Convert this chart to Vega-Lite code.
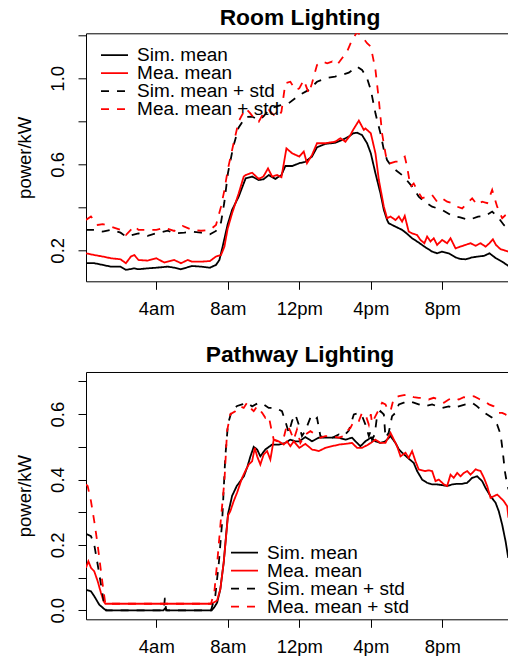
{
"$schema": "https://vega.github.io/schema/vega-lite/v6.json",
"background": "white",
"autosize": {"type": "pad"},
"padding": {"left": 15, "top": 6.3, "right": 0, "bottom": 0},
"spacing": 90.7,
"bounds": "flush",
"config": {
  "font": "Liberation Sans",
  "view": {"stroke": null},
  "axis": {"grid": false, "domainColor": "black", "tickColor": "black", "labelColor": "black", "titleColor": "black", "labelFont": "Liberation Sans", "titleFont": "Liberation Sans", "labelFontSize": 18.5, "titleFontSize": 18.5, "titleFontWeight": "normal", "tickSize": 8, "domainWidth": 1, "tickWidth": 1},
  "legend": {"orient": "none", "title": null, "symbolType": "M-4,0H4", "symbolSize": 45.6, "symbolStrokeWidth": 1.8, "symbolOffset": 10.1, "labelFontSize": 19, "labelFont": "Liberation Sans", "labelColor": "black", "labelOffset": 13.1, "rowPadding": 0, "clipHeight": 17.4, "padding": 0, "labelBaseline": "middle", "labelLimit": 0},
  "title": {"font": "Liberation Sans", "fontSize": 22.8, "fontWeight": "bold", "color": "black", "anchor": "middle", "frame": "group", "baseline": "alphabetic", "dx": 3}
},
"resolve": {"scale": {"x": "independent", "y": "independent", "color": "independent", "strokeDash": "independent"}, "legend": {"color": "independent", "strokeDash": "independent"}},
"vconcat": [
{
  "title": {"text": "Room Lighting", "offset": 3.3},
  "width": 422, "height": 248,
  "data": {"name": "room"},
  "resolve": {"axis": {"x": "independent"}},
  "layer": [
    {
      "mark": {"type": "line", "strokeWidth": 1.8, "clip": true},
      "encoding": {
        "x": {"field": "h", "type": "quantitative", "scale": {"domain": [0.067, 23.675], "nice": false, "zero": false},
              "axis": {"orient": "bottom", "values": [4, 8, 12, 16, 20], "labelExpr": "datum.value == 4 ? '4am' : datum.value == 8 ? '8am' : datum.value == 12 ? '12pm' : datum.value == 16 ? '4pm' : '8pm'", "title": null, "labelPadding": 25, "labelBaseline": "alphabetic", "labelFlush": false, "labelOverlap": false}},
        "y": {"field": "v", "type": "quantitative", "scale": {"domain": [0.0558, 1.2093], "nice": false, "zero": false},
              "axis": {"values": [0.2, 0.4, 0.6, 0.8, 1.0, 1.2], "labelExpr": "round(datum.value*10) % 4 == 2 ? format(datum.value, '.1f') : ''", "title": "power/kW", "labelAngle": 270, "labelAlign": "center", "labelBaseline": "alphabetic", "labelPadding": 14.7, "titleX": -56, "titleY": 124, "titleAngle": 270, "titleBaseline": "alphabetic", "titleAlign": "center", "labelOverlap": false, "labelFlush": false}},
        "color": {"field": "s", "type": "nominal", "scale": {"domain": ["Sim. mean", "Mea. mean", "Sim. mean + std", "Mea. mean + std"], "range": ["black", "#ff0000", "black", "#ff0000"]}, "legend": {"legendX": 8.9, "legendY": 13.1, "encode": {"entries": {"update": {"clip": {"value": true}, "width": {"value": 200}}}}}},
        "strokeDash": {"field": "s", "type": "nominal", "scale": {"domain": ["Sim. mean", "Mea. mean", "Sim. mean + std", "Mea. mean + std"], "range": [[1, 0], [1, 0], [8, 8], [8, 8]]}, "legend": {"legendX": 8.9, "legendY": 13.1, "encode": {"entries": {"update": {"clip": {"value": true}, "width": {"value": 200}}}}}}
      }
    },
    {
      "mark": {"type": "line", "opacity": 0, "clip": true},
      "encoding": {
        "x": {"field": "h", "type": "quantitative", "scale": {"domain": [0.067, 23.675], "nice": false, "zero": false},
              "axis": {"orient": "top", "labels": false, "ticks": false, "title": null, "domain": true}}
      }
    }
  ]
},
{
  "title": {"text": "Pathway Lighting", "offset": 4.7},
  "width": 422, "height": 247.3,
  "data": {"name": "path"},
  "resolve": {"axis": {"x": "independent"}},
  "layer": [
    {
      "mark": {"type": "line", "strokeWidth": 1.8, "clip": true},
      "encoding": {
        "x": {"field": "h", "type": "quantitative", "scale": {"domain": [0.067, 23.675], "nice": false, "zero": false},
              "axis": {"orient": "bottom", "values": [4, 8, 12, 16, 20], "labelExpr": "datum.value == 4 ? '4am' : datum.value == 8 ? '8am' : datum.value == 12 ? '12pm' : datum.value == 16 ? '4pm' : '8pm'", "title": null, "labelPadding": 25, "labelBaseline": "alphabetic", "labelFlush": false, "labelOverlap": false}},
        "y": {"field": "v", "type": "quantitative", "scale": {"domain": [-0.0276, 0.729], "nice": false, "zero": false},
              "axis": {"values": [0, 0.1, 0.2, 0.3, 0.4, 0.5, 0.6, 0.7], "labelExpr": "round(datum.value*10) % 2 == 0 ? format(datum.value, '.1f') : ''", "title": "power/kW", "labelAngle": 270, "labelAlign": "center", "labelBaseline": "alphabetic", "labelPadding": 14.7, "titleX": -56, "titleY": 123.65, "titleAngle": 270, "titleBaseline": "alphabetic", "titleAlign": "center", "labelOverlap": false, "labelFlush": false}},
        "color": {"field": "s", "type": "nominal", "scale": {"domain": ["Sim. mean", "Mea. mean", "Sim. mean + std", "Mea. mean + std"], "range": ["black", "#ff0000", "black", "#ff0000"]}, "legend": {"legendX": 138.9, "legendY": 171.9, "encode": {"entries": {"update": {"clip": {"value": true}, "width": {"value": 200}}}}}},
        "strokeDash": {"field": "s", "type": "nominal", "scale": {"domain": ["Sim. mean", "Mea. mean", "Sim. mean + std", "Mea. mean + std"], "range": [[1, 0], [1, 0], [8, 8], [8, 8]]}, "legend": {"legendX": 138.9, "legendY": 171.9, "encode": {"entries": {"update": {"clip": {"value": true}, "width": {"value": 200}}}}}}
      }
    },
    {
      "mark": {"type": "line", "opacity": 0, "clip": true},
      "encoding": {
        "x": {"field": "h", "type": "quantitative", "scale": {"domain": [0.067, 23.675], "nice": false, "zero": false},
              "axis": {"orient": "top", "labels": false, "ticks": false, "title": null, "domain": true}}
      }
    }
  ]
}
],
"datasets": {
"room": [
{"s":"Sim. mean","h":0.065,"v":0.14},{"s":"Sim. mean","h":0.53,"v":0.14},{"s":"Sim. mean","h":1.0,"v":0.132},{"s":"Sim. mean","h":1.46,"v":0.124},{"s":"Sim. mean","h":2.0,"v":0.124},{"s":"Sim. mean","h":2.3,"v":0.109},{"s":"Sim. mean","h":2.77,"v":0.116},{"s":"Sim. mean","h":3.0,"v":0.112},{"s":"Sim. mean","h":3.52,"v":0.116},{"s":"Sim. mean","h":4.0,"v":0.119},{"s":"Sim. mean","h":4.64,"v":0.124},{"s":"Sim. mean","h":5.0,"v":0.119},{"s":"Sim. mean","h":5.38,"v":0.112},{"s":"Sim. mean","h":6.0,"v":0.127},{"s":"Sim. mean","h":6.5,"v":0.124},{"s":"Sim. mean","h":7.0,"v":0.119},{"s":"Sim. mean","h":7.34,"v":0.132},{"s":"Sim. mean","h":7.53,"v":0.155},{"s":"Sim. mean","h":7.71,"v":0.217},{"s":"Sim. mean","h":7.99,"v":0.32},{"s":"Sim. mean","h":8.24,"v":0.388},{"s":"Sim. mean","h":8.61,"v":0.45},{"s":"Sim. mean","h":9.0,"v":0.535},{"s":"Sim. mean","h":9.36,"v":0.543},{"s":"Sim. mean","h":9.73,"v":0.527},{"s":"Sim. mean","h":9.99,"v":0.53},{"s":"Sim. mean","h":10.29,"v":0.55},{"s":"Sim. mean","h":10.66,"v":0.532},{"s":"Sim. mean","h":11.0,"v":0.55},{"s":"Sim. mean","h":11.22,"v":0.592},{"s":"Sim. mean","h":11.6,"v":0.592},{"s":"Sim. mean","h":12.0,"v":0.605},{"s":"Sim. mean","h":12.34,"v":0.612},{"s":"Sim. mean","h":12.71,"v":0.636},{"s":"Sim. mean","h":12.99,"v":0.679},{"s":"Sim. mean","h":13.46,"v":0.695},{"s":"Sim. mean","h":14.0,"v":0.7},{"s":"Sim. mean","h":14.39,"v":0.713},{"s":"Sim. mean","h":14.77,"v":0.729},{"s":"Sim. mean","h":15.01,"v":0.744},{"s":"Sim. mean","h":15.23,"v":0.747},{"s":"Sim. mean","h":15.51,"v":0.736},{"s":"Sim. mean","h":15.79,"v":0.698},{"s":"Sim. mean","h":16.0,"v":0.651},{"s":"Sim. mean","h":16.26,"v":0.558},{"s":"Sim. mean","h":16.54,"v":0.465},{"s":"Sim. mean","h":16.73,"v":0.388},{"s":"Sim. mean","h":16.91,"v":0.341},{"s":"Sim. mean","h":17.0,"v":0.326},{"s":"Sim. mean","h":17.38,"v":0.31},{"s":"Sim. mean","h":17.75,"v":0.295},{"s":"Sim. mean","h":18.0,"v":0.279},{"s":"Sim. mean","h":18.31,"v":0.256},{"s":"Sim. mean","h":18.68,"v":0.236},{"s":"Sim. mean","h":19.0,"v":0.217},{"s":"Sim. mean","h":19.43,"v":0.194},{"s":"Sim. mean","h":19.71,"v":0.186},{"s":"Sim. mean","h":19.99,"v":0.194},{"s":"Sim. mean","h":20.36,"v":0.186},{"s":"Sim. mean","h":20.74,"v":0.167},{"s":"Sim. mean","h":21.0,"v":0.16},{"s":"Sim. mean","h":21.3,"v":0.158},{"s":"Sim. mean","h":21.67,"v":0.167},{"s":"Sim. mean","h":22.0,"v":0.171},{"s":"Sim. mean","h":22.33,"v":0.174},{"s":"Sim. mean","h":22.64,"v":0.186},{"s":"Sim. mean","h":23.0,"v":0.163},{"s":"Sim. mean","h":23.35,"v":0.147},{"s":"Sim. mean","h":23.7,"v":0.127},
{"s":"Mea. mean","h":0.065,"v":0.186},{"s":"Mea. mean","h":0.53,"v":0.178},{"s":"Mea. mean","h":1.0,"v":0.171},{"s":"Mea. mean","h":1.46,"v":0.163},{"s":"Mea. mean","h":2.0,"v":0.158},{"s":"Mea. mean","h":2.3,"v":0.14},{"s":"Mea. mean","h":2.58,"v":0.171},{"s":"Mea. mean","h":2.77,"v":0.178},{"s":"Mea. mean","h":3.0,"v":0.155},{"s":"Mea. mean","h":3.52,"v":0.152},{"s":"Mea. mean","h":4.0,"v":0.163},{"s":"Mea. mean","h":4.45,"v":0.143},{"s":"Mea. mean","h":5.0,"v":0.155},{"s":"Mea. mean","h":5.38,"v":0.14},{"s":"Mea. mean","h":5.76,"v":0.155},{"s":"Mea. mean","h":6.0,"v":0.147},{"s":"Mea. mean","h":6.5,"v":0.147},{"s":"Mea. mean","h":7.0,"v":0.15},{"s":"Mea. mean","h":7.34,"v":0.171},{"s":"Mea. mean","h":7.62,"v":0.178},{"s":"Mea. mean","h":7.81,"v":0.217},{"s":"Mea. mean","h":7.99,"v":0.3},{"s":"Mea. mean","h":8.24,"v":0.372},{"s":"Mea. mean","h":8.61,"v":0.465},{"s":"Mea. mean","h":8.89,"v":0.543},{"s":"Mea. mean","h":9.0,"v":0.55},{"s":"Mea. mean","h":9.36,"v":0.561},{"s":"Mea. mean","h":9.73,"v":0.532},{"s":"Mea. mean","h":9.99,"v":0.543},{"s":"Mea. mean","h":10.25,"v":0.581},{"s":"Mea. mean","h":10.48,"v":0.543},{"s":"Mea. mean","h":10.76,"v":0.55},{"s":"Mea. mean","h":11.0,"v":0.54},{"s":"Mea. mean","h":11.28,"v":0.674},{"s":"Mea. mean","h":11.6,"v":0.651},{"s":"Mea. mean","h":12.0,"v":0.636},{"s":"Mea. mean","h":12.25,"v":0.659},{"s":"Mea. mean","h":12.43,"v":0.605},{"s":"Mea. mean","h":12.71,"v":0.643},{"s":"Mea. mean","h":12.99,"v":0.698},{"s":"Mea. mean","h":13.46,"v":0.698},{"s":"Mea. mean","h":14.0,"v":0.705},{"s":"Mea. mean","h":14.3,"v":0.721},{"s":"Mea. mean","h":14.58,"v":0.705},{"s":"Mea. mean","h":14.86,"v":0.736},{"s":"Mea. mean","h":15.01,"v":0.76},{"s":"Mea. mean","h":15.33,"v":0.803},{"s":"Mea. mean","h":15.61,"v":0.76},{"s":"Mea. mean","h":15.7,"v":0.767},{"s":"Mea. mean","h":16.0,"v":0.744},{"s":"Mea. mean","h":16.26,"v":0.651},{"s":"Mea. mean","h":16.45,"v":0.527},{"s":"Mea. mean","h":16.73,"v":0.403},{"s":"Mea. mean","h":16.91,"v":0.349},{"s":"Mea. mean","h":17.1,"v":0.357},{"s":"Mea. mean","h":17.38,"v":0.341},{"s":"Mea. mean","h":17.57,"v":0.357},{"s":"Mea. mean","h":17.75,"v":0.333},{"s":"Mea. mean","h":17.9,"v":0.36},{"s":"Mea. mean","h":18.12,"v":0.287},{"s":"Mea. mean","h":18.31,"v":0.279},{"s":"Mea. mean","h":18.59,"v":0.271},{"s":"Mea. mean","h":18.78,"v":0.248},{"s":"Mea. mean","h":19.0,"v":0.233},{"s":"Mea. mean","h":19.15,"v":0.264},{"s":"Mea. mean","h":19.34,"v":0.241},{"s":"Mea. mean","h":19.52,"v":0.256},{"s":"Mea. mean","h":19.71,"v":0.225},{"s":"Mea. mean","h":19.99,"v":0.248},{"s":"Mea. mean","h":20.27,"v":0.233},{"s":"Mea. mean","h":20.46,"v":0.256},{"s":"Mea. mean","h":20.74,"v":0.209},{"s":"Mea. mean","h":21.0,"v":0.217},{"s":"Mea. mean","h":21.3,"v":0.225},{"s":"Mea. mean","h":21.58,"v":0.233},{"s":"Mea. mean","h":21.86,"v":0.221},{"s":"Mea. mean","h":22.14,"v":0.233},{"s":"Mea. mean","h":22.42,"v":0.217},{"s":"Mea. mean","h":22.64,"v":0.233},{"s":"Mea. mean","h":22.83,"v":0.251},{"s":"Mea. mean","h":23.0,"v":0.225},{"s":"Mea. mean","h":23.26,"v":0.205},{"s":"Mea. mean","h":23.54,"v":0.198},{"s":"Mea. mean","h":23.7,"v":0.194},
{"s":"Sim. mean + std","h":0.065,"v":0.295},{"s":"Sim. mean + std","h":0.53,"v":0.295},{"s":"Sim. mean + std","h":1.0,"v":0.287},{"s":"Sim. mean + std","h":1.46,"v":0.295},{"s":"Sim. mean + std","h":2.0,"v":0.282},{"s":"Sim. mean + std","h":2.3,"v":0.264},{"s":"Sim. mean + std","h":3.0,"v":0.279},{"s":"Sim. mean + std","h":3.52,"v":0.267},{"s":"Sim. mean + std","h":4.0,"v":0.279},{"s":"Sim. mean + std","h":4.64,"v":0.291},{"s":"Sim. mean + std","h":5.0,"v":0.279},{"s":"Sim. mean + std","h":5.57,"v":0.282},{"s":"Sim. mean + std","h":6.0,"v":0.287},{"s":"Sim. mean + std","h":6.5,"v":0.282},{"s":"Sim. mean + std","h":7.0,"v":0.274},{"s":"Sim. mean + std","h":7.34,"v":0.29},{"s":"Sim. mean + std","h":7.62,"v":0.33},{"s":"Sim. mean + std","h":7.8,"v":0.42},{"s":"Sim. mean + std","h":8.01,"v":0.56},{"s":"Sim. mean + std","h":8.3,"v":0.68},{"s":"Sim. mean + std","h":8.6,"v":0.77},{"s":"Sim. mean + std","h":9.0,"v":0.82},{"s":"Sim. mean + std","h":9.36,"v":0.822},{"s":"Sim. mean + std","h":9.73,"v":0.806},{"s":"Sim. mean + std","h":9.99,"v":0.822},{"s":"Sim. mean + std","h":10.29,"v":0.853},{"s":"Sim. mean + std","h":10.66,"v":0.868},{"s":"Sim. mean + std","h":11.0,"v":0.876},{"s":"Sim. mean + std","h":11.41,"v":0.884},{"s":"Sim. mean + std","h":12.0,"v":0.922},{"s":"Sim. mean + std","h":12.53,"v":0.946},{"s":"Sim. mean + std","h":12.99,"v":0.984},{"s":"Sim. mean + std","h":13.46,"v":1.0},{"s":"Sim. mean + std","h":14.0,"v":1.008},{"s":"Sim. mean + std","h":14.39,"v":1.016},{"s":"Sim. mean + std","h":14.77,"v":1.026},{"s":"Sim. mean + std","h":15.23,"v":1.054},{"s":"Sim. mean + std","h":15.51,"v":1.039},{"s":"Sim. mean + std","h":15.79,"v":1.0},{"s":"Sim. mean + std","h":16.0,"v":0.946},{"s":"Sim. mean + std","h":16.26,"v":0.837},{"s":"Sim. mean + std","h":16.54,"v":0.744},{"s":"Sim. mean + std","h":16.73,"v":0.667},{"s":"Sim. mean + std","h":16.91,"v":0.62},{"s":"Sim. mean + std","h":17.1,"v":0.597},{"s":"Sim. mean + std","h":17.38,"v":0.574},{"s":"Sim. mean + std","h":17.75,"v":0.55},{"s":"Sim. mean + std","h":18.0,"v":0.527},{"s":"Sim. mean + std","h":18.31,"v":0.496},{"s":"Sim. mean + std","h":18.68,"v":0.45},{"s":"Sim. mean + std","h":19.0,"v":0.426},{"s":"Sim. mean + std","h":19.43,"v":0.403},{"s":"Sim. mean + std","h":19.99,"v":0.388},{"s":"Sim. mean + std","h":20.55,"v":0.36},{"s":"Sim. mean + std","h":21.0,"v":0.353},{"s":"Sim. mean + std","h":21.48,"v":0.341},{"s":"Sim. mean + std","h":22.0,"v":0.357},{"s":"Sim. mean + std","h":22.42,"v":0.36},{"s":"Sim. mean + std","h":22.79,"v":0.38},{"s":"Sim. mean + std","h":23.16,"v":0.349},{"s":"Sim. mean + std","h":23.44,"v":0.318},{"s":"Sim. mean + std","h":23.7,"v":0.3},
{"s":"Mea. mean + std","h":0.065,"v":0.341},{"s":"Mea. mean + std","h":0.345,"v":0.357},{"s":"Mea. mean + std","h":0.72,"v":0.318},{"s":"Mea. mean + std","h":1.0,"v":0.322},{"s":"Mea. mean + std","h":1.46,"v":0.31},{"s":"Mea. mean + std","h":2.0,"v":0.295},{"s":"Mea. mean + std","h":2.3,"v":0.271},{"s":"Mea. mean + std","h":2.77,"v":0.313},{"s":"Mea. mean + std","h":3.0,"v":0.295},{"s":"Mea. mean + std","h":3.52,"v":0.295},{"s":"Mea. mean + std","h":4.0,"v":0.295},{"s":"Mea. mean + std","h":4.45,"v":0.305},{"s":"Mea. mean + std","h":5.0,"v":0.29},{"s":"Mea. mean + std","h":5.48,"v":0.313},{"s":"Mea. mean + std","h":6.0,"v":0.295},{"s":"Mea. mean + std","h":6.5,"v":0.291},{"s":"Mea. mean + std","h":7.0,"v":0.295},{"s":"Mea. mean + std","h":7.34,"v":0.318},{"s":"Mea. mean + std","h":7.62,"v":0.403},{"s":"Mea. mean + std","h":7.81,"v":0.48},{"s":"Mea. mean + std","h":8.01,"v":0.58},{"s":"Mea. mean + std","h":8.33,"v":0.7},{"s":"Mea. mean + std","h":8.61,"v":0.8},{"s":"Mea. mean + std","h":8.8,"v":0.83},{"s":"Mea. mean + std","h":9.0,"v":0.86},{"s":"Mea. mean + std","h":9.26,"v":0.837},{"s":"Mea. mean + std","h":9.54,"v":0.806},{"s":"Mea. mean + std","h":9.73,"v":0.798},{"s":"Mea. mean + std","h":9.99,"v":0.837},{"s":"Mea. mean + std","h":10.29,"v":0.853},{"s":"Mea. mean + std","h":10.57,"v":0.829},{"s":"Mea. mean + std","h":10.85,"v":0.822},{"s":"Mea. mean + std","h":11.0,"v":0.845},{"s":"Mea. mean + std","h":11.22,"v":0.977},{"s":"Mea. mean + std","h":11.5,"v":0.984},{"s":"Mea. mean + std","h":11.78,"v":0.946},{"s":"Mea. mean + std","h":12.0,"v":0.953},{"s":"Mea. mean + std","h":12.25,"v":0.992},{"s":"Mea. mean + std","h":12.53,"v":0.93},{"s":"Mea. mean + std","h":12.71,"v":0.977},{"s":"Mea. mean + std","h":12.99,"v":1.062},{"s":"Mea. mean + std","h":13.27,"v":1.078},{"s":"Mea. mean + std","h":13.56,"v":1.07},{"s":"Mea. mean + std","h":13.84,"v":1.078},{"s":"Mea. mean + std","h":14.11,"v":1.062},{"s":"Mea. mean + std","h":14.39,"v":1.093},{"s":"Mea. mean + std","h":14.67,"v":1.124},{"s":"Mea. mean + std","h":14.95,"v":1.178},{"s":"Mea. mean + std","h":15.23,"v":1.215},{"s":"Mea. mean + std","h":15.51,"v":1.194},{"s":"Mea. mean + std","h":15.79,"v":1.163},{"s":"Mea. mean + std","h":16.0,"v":1.147},{"s":"Mea. mean + std","h":16.26,"v":1.039},{"s":"Mea. mean + std","h":16.45,"v":0.899},{"s":"Mea. mean + std","h":16.63,"v":0.744},{"s":"Mea. mean + std","h":16.82,"v":0.651},{"s":"Mea. mean + std","h":16.91,"v":0.612},{"s":"Mea. mean + std","h":17.1,"v":0.605},{"s":"Mea. mean + std","h":17.38,"v":0.612},{"s":"Mea. mean + std","h":17.57,"v":0.612},{"s":"Mea. mean + std","h":17.9,"v":0.636},{"s":"Mea. mean + std","h":18.03,"v":0.589},{"s":"Mea. mean + std","h":18.22,"v":0.496},{"s":"Mea. mean + std","h":18.4,"v":0.511},{"s":"Mea. mean + std","h":18.59,"v":0.48},{"s":"Mea. mean + std","h":18.87,"v":0.442},{"s":"Mea. mean + std","h":19.15,"v":0.45},{"s":"Mea. mean + std","h":19.43,"v":0.457},{"s":"Mea. mean + std","h":19.71,"v":0.426},{"s":"Mea. mean + std","h":19.99,"v":0.442},{"s":"Mea. mean + std","h":20.27,"v":0.426},{"s":"Mea. mean + std","h":20.55,"v":0.419},{"s":"Mea. mean + std","h":20.83,"v":0.403},{"s":"Mea. mean + std","h":21.11,"v":0.395},{"s":"Mea. mean + std","h":21.39,"v":0.419},{"s":"Mea. mean + std","h":21.67,"v":0.442},{"s":"Mea. mean + std","h":21.95,"v":0.411},{"s":"Mea. mean + std","h":22.23,"v":0.426},{"s":"Mea. mean + std","h":22.51,"v":0.419},{"s":"Mea. mean + std","h":22.79,"v":0.481},{"s":"Mea. mean + std","h":23.07,"v":0.403},{"s":"Mea. mean + std","h":23.35,"v":0.349},{"s":"Mea. mean + std","h":23.54,"v":0.364},{"s":"Mea. mean + std","h":23.7,"v":0.372}
],
"path": [
{"s":"Sim. mean","h":0.065,"v":0.063},{"s":"Sim. mean","h":0.345,"v":0.058},{"s":"Sim. mean","h":0.53,"v":0.043},{"s":"Sim. mean","h":0.81,"v":0.017},{"s":"Sim. mean","h":1.13,"v":0.002},{"s":"Sim. mean","h":1.2,"v":0.0},{"s":"Sim. mean","h":4.4,"v":0.0},{"s":"Sim. mean","h":4.5,"v":0.006},{"s":"Sim. mean","h":4.6,"v":0.0},{"s":"Sim. mean","h":7.1,"v":0.0},{"s":"Sim. mean","h":7.25,"v":0.01},{"s":"Sim. mean","h":7.4,"v":0.023},{"s":"Sim. mean","h":7.58,"v":0.064},{"s":"Sim. mean","h":7.77,"v":0.146},{"s":"Sim. mean","h":8.01,"v":0.294},{"s":"Sim. mean","h":8.24,"v":0.35},{"s":"Sim. mean","h":8.5,"v":0.38},{"s":"Sim. mean","h":8.9,"v":0.41},{"s":"Sim. mean","h":9.1,"v":0.44},{"s":"Sim. mean","h":9.26,"v":0.47},{"s":"Sim. mean","h":9.45,"v":0.5},{"s":"Sim. mean","h":9.64,"v":0.492},{"s":"Sim. mean","h":9.82,"v":0.471},{"s":"Sim. mean","h":10.1,"v":0.492},{"s":"Sim. mean","h":10.48,"v":0.507},{"s":"Sim. mean","h":10.85,"v":0.507},{"s":"Sim. mean","h":11.22,"v":0.512},{"s":"Sim. mean","h":11.5,"v":0.522},{"s":"Sim. mean","h":11.78,"v":0.517},{"s":"Sim. mean","h":12.0,"v":0.517},{"s":"Sim. mean","h":12.34,"v":0.53},{"s":"Sim. mean","h":12.71,"v":0.517},{"s":"Sim. mean","h":13.09,"v":0.528},{"s":"Sim. mean","h":13.46,"v":0.528},{"s":"Sim. mean","h":13.84,"v":0.528},{"s":"Sim. mean","h":14.21,"v":0.528},{"s":"Sim. mean","h":14.58,"v":0.522},{"s":"Sim. mean","h":14.95,"v":0.528},{"s":"Sim. mean","h":15.23,"v":0.512},{"s":"Sim. mean","h":15.42,"v":0.502},{"s":"Sim. mean","h":15.7,"v":0.517},{"s":"Sim. mean","h":16.0,"v":0.528},{"s":"Sim. mean","h":16.26,"v":0.517},{"s":"Sim. mean","h":16.54,"v":0.512},{"s":"Sim. mean","h":16.82,"v":0.517},{"s":"Sim. mean","h":17.1,"v":0.533},{"s":"Sim. mean","h":17.38,"v":0.512},{"s":"Sim. mean","h":17.57,"v":0.492},{"s":"Sim. mean","h":17.85,"v":0.477},{"s":"Sim. mean","h":18.12,"v":0.464},{"s":"Sim. mean","h":18.4,"v":0.451},{"s":"Sim. mean","h":18.59,"v":0.426},{"s":"Sim. mean","h":18.87,"v":0.4},{"s":"Sim. mean","h":19.15,"v":0.39},{"s":"Sim. mean","h":19.43,"v":0.385},{"s":"Sim. mean","h":19.71,"v":0.385},{"s":"Sim. mean","h":19.99,"v":0.383},{"s":"Sim. mean","h":20.27,"v":0.38},{"s":"Sim. mean","h":20.55,"v":0.385},{"s":"Sim. mean","h":20.83,"v":0.387},{"s":"Sim. mean","h":21.11,"v":0.387},{"s":"Sim. mean","h":21.39,"v":0.39},{"s":"Sim. mean","h":21.67,"v":0.405},{"s":"Sim. mean","h":21.95,"v":0.41},{"s":"Sim. mean","h":22.23,"v":0.395},{"s":"Sim. mean","h":22.42,"v":0.374},{"s":"Sim. mean","h":22.7,"v":0.349},{"s":"Sim. mean","h":22.98,"v":0.329},{"s":"Sim. mean","h":23.16,"v":0.303},{"s":"Sim. mean","h":23.35,"v":0.262},{"s":"Sim. mean","h":23.54,"v":0.211},{"s":"Sim. mean","h":23.69,"v":0.16},
{"s":"Mea. mean","h":0.065,"v":0.13},{"s":"Mea. mean","h":0.2,"v":0.15},{"s":"Mea. mean","h":0.345,"v":0.13},{"s":"Mea. mean","h":0.53,"v":0.119},{"s":"Mea. mean","h":0.72,"v":0.089},{"s":"Mea. mean","h":0.905,"v":0.053},{"s":"Mea. mean","h":1.05,"v":0.028},{"s":"Mea. mean","h":1.15,"v":0.02},{"s":"Mea. mean","h":7.1,"v":0.02},{"s":"Mea. mean","h":7.4,"v":0.03},{"s":"Mea. mean","h":7.58,"v":0.064},{"s":"Mea. mean","h":7.77,"v":0.146},{"s":"Mea. mean","h":8.01,"v":0.29},{"s":"Mea. mean","h":8.14,"v":0.303},{"s":"Mea. mean","h":8.33,"v":0.334},{"s":"Mea. mean","h":8.52,"v":0.36},{"s":"Mea. mean","h":8.8,"v":0.405},{"s":"Mea. mean","h":8.98,"v":0.426},{"s":"Mea. mean","h":9.17,"v":0.446},{"s":"Mea. mean","h":9.36,"v":0.456},{"s":"Mea. mean","h":9.51,"v":0.497},{"s":"Mea. mean","h":9.64,"v":0.471},{"s":"Mea. mean","h":9.82,"v":0.446},{"s":"Mea. mean","h":10.01,"v":0.477},{"s":"Mea. mean","h":10.2,"v":0.487},{"s":"Mea. mean","h":10.38,"v":0.461},{"s":"Mea. mean","h":10.57,"v":0.522},{"s":"Mea. mean","h":10.85,"v":0.517},{"s":"Mea. mean","h":11.13,"v":0.507},{"s":"Mea. mean","h":11.31,"v":0.517},{"s":"Mea. mean","h":11.5,"v":0.502},{"s":"Mea. mean","h":11.69,"v":0.517},{"s":"Mea. mean","h":12.0,"v":0.497},{"s":"Mea. mean","h":12.34,"v":0.509},{"s":"Mea. mean","h":12.71,"v":0.492},{"s":"Mea. mean","h":13.09,"v":0.487},{"s":"Mea. mean","h":13.46,"v":0.497},{"s":"Mea. mean","h":13.84,"v":0.502},{"s":"Mea. mean","h":14.21,"v":0.507},{"s":"Mea. mean","h":14.58,"v":0.509},{"s":"Mea. mean","h":14.95,"v":0.512},{"s":"Mea. mean","h":15.23,"v":0.497},{"s":"Mea. mean","h":15.51,"v":0.497},{"s":"Mea. mean","h":15.79,"v":0.505},{"s":"Mea. mean","h":16.0,"v":0.512},{"s":"Mea. mean","h":16.26,"v":0.522},{"s":"Mea. mean","h":16.54,"v":0.512},{"s":"Mea. mean","h":16.82,"v":0.512},{"s":"Mea. mean","h":17.1,"v":0.543},{"s":"Mea. mean","h":17.29,"v":0.522},{"s":"Mea. mean","h":17.47,"v":0.502},{"s":"Mea. mean","h":17.66,"v":0.471},{"s":"Mea. mean","h":17.94,"v":0.482},{"s":"Mea. mean","h":18.12,"v":0.466},{"s":"Mea. mean","h":18.31,"v":0.487},{"s":"Mea. mean","h":18.5,"v":0.456},{"s":"Mea. mean","h":18.68,"v":0.431},{"s":"Mea. mean","h":18.87,"v":0.428},{"s":"Mea. mean","h":19.05,"v":0.426},{"s":"Mea. mean","h":19.24,"v":0.428},{"s":"Mea. mean","h":19.43,"v":0.426},{"s":"Mea. mean","h":19.62,"v":0.395},{"s":"Mea. mean","h":19.8,"v":0.4},{"s":"Mea. mean","h":20.09,"v":0.385},{"s":"Mea. mean","h":20.27,"v":0.38},{"s":"Mea. mean","h":20.46,"v":0.415},{"s":"Mea. mean","h":20.64,"v":0.405},{"s":"Mea. mean","h":20.83,"v":0.42},{"s":"Mea. mean","h":21.02,"v":0.41},{"s":"Mea. mean","h":21.2,"v":0.42},{"s":"Mea. mean","h":21.39,"v":0.426},{"s":"Mea. mean","h":21.58,"v":0.415},{"s":"Mea. mean","h":21.86,"v":0.431},{"s":"Mea. mean","h":22.14,"v":0.426},{"s":"Mea. mean","h":22.33,"v":0.405},{"s":"Mea. mean","h":22.51,"v":0.38},{"s":"Mea. mean","h":22.7,"v":0.344},{"s":"Mea. mean","h":22.88,"v":0.349},{"s":"Mea. mean","h":23.07,"v":0.354},{"s":"Mea. mean","h":23.26,"v":0.344},{"s":"Mea. mean","h":23.44,"v":0.334},{"s":"Mea. mean","h":23.63,"v":0.318},{"s":"Mea. mean","h":23.7,"v":0.283},
{"s":"Sim. mean + std","h":0.065,"v":0.234},{"s":"Sim. mean + std","h":0.345,"v":0.227},{"s":"Sim. mean + std","h":0.53,"v":0.2},{"s":"Sim. mean + std","h":0.72,"v":0.14},{"s":"Sim. mean + std","h":0.905,"v":0.079},{"s":"Sim. mean + std","h":1.09,"v":0.017},{"s":"Sim. mean + std","h":1.185,"v":0.0},{"s":"Sim. mean + std","h":4.42,"v":0.0},{"s":"Sim. mean + std","h":4.48,"v":0.038},{"s":"Sim. mean + std","h":4.55,"v":0.0},{"s":"Sim. mean + std","h":7.06,"v":0.0},{"s":"Sim. mean + std","h":7.3,"v":0.044},{"s":"Sim. mean + std","h":7.5,"v":0.146},{"s":"Sim. mean + std","h":7.68,"v":0.268},{"s":"Sim. mean + std","h":7.86,"v":0.47},{"s":"Sim. mean + std","h":8.01,"v":0.57},{"s":"Sim. mean + std","h":8.24,"v":0.614},{"s":"Sim. mean + std","h":8.52,"v":0.625},{"s":"Sim. mean + std","h":8.8,"v":0.63},{"s":"Sim. mean + std","h":9.08,"v":0.635},{"s":"Sim. mean + std","h":9.36,"v":0.624},{"s":"Sim. mean + std","h":9.73,"v":0.635},{"s":"Sim. mean + std","h":10.01,"v":0.63},{"s":"Sim. mean + std","h":10.29,"v":0.619},{"s":"Sim. mean + std","h":10.66,"v":0.619},{"s":"Sim. mean + std","h":11.03,"v":0.609},{"s":"Sim. mean + std","h":11.22,"v":0.578},{"s":"Sim. mean + std","h":11.41,"v":0.543},{"s":"Sim. mean + std","h":11.6,"v":0.58},{"s":"Sim. mean + std","h":11.78,"v":0.599},{"s":"Sim. mean + std","h":11.97,"v":0.568},{"s":"Sim. mean + std","h":12.15,"v":0.533},{"s":"Sim. mean + std","h":12.34,"v":0.55},{"s":"Sim. mean + std","h":12.62,"v":0.589},{"s":"Sim. mean + std","h":12.81,"v":0.579},{"s":"Sim. mean + std","h":12.99,"v":0.589},{"s":"Sim. mean + std","h":13.18,"v":0.533},{"s":"Sim. mean + std","h":13.46,"v":0.528},{"s":"Sim. mean + std","h":13.84,"v":0.528},{"s":"Sim. mean + std","h":14.21,"v":0.538},{"s":"Sim. mean + std","h":14.49,"v":0.533},{"s":"Sim. mean + std","h":14.77,"v":0.55},{"s":"Sim. mean + std","h":15.05,"v":0.599},{"s":"Sim. mean + std","h":15.33,"v":0.604},{"s":"Sim. mean + std","h":15.55,"v":0.589},{"s":"Sim. mean + std","h":15.7,"v":0.568},{"s":"Sim. mean + std","h":15.89,"v":0.533},{"s":"Sim. mean + std","h":16.0,"v":0.55},{"s":"Sim. mean + std","h":16.07,"v":0.522},{"s":"Sim. mean + std","h":16.22,"v":0.538},{"s":"Sim. mean + std","h":16.35,"v":0.594},{"s":"Sim. mean + std","h":16.54,"v":0.609},{"s":"Sim. mean + std","h":16.73,"v":0.599},{"s":"Sim. mean + std","h":16.82,"v":0.528},{"s":"Sim. mean + std","h":17.0,"v":0.543},{"s":"Sim. mean + std","h":17.19,"v":0.594},{"s":"Sim. mean + std","h":17.38,"v":0.604},{"s":"Sim. mean + std","h":17.57,"v":0.63},{"s":"Sim. mean + std","h":17.85,"v":0.635},{"s":"Sim. mean + std","h":18.12,"v":0.64},{"s":"Sim. mean + std","h":18.4,"v":0.635},{"s":"Sim. mean + std","h":18.68,"v":0.63},{"s":"Sim. mean + std","h":19.0,"v":0.624},{"s":"Sim. mean + std","h":19.43,"v":0.63},{"s":"Sim. mean + std","h":19.71,"v":0.624},{"s":"Sim. mean + std","h":19.99,"v":0.619},{"s":"Sim. mean + std","h":20.36,"v":0.624},{"s":"Sim. mean + std","h":20.64,"v":0.619},{"s":"Sim. mean + std","h":20.92,"v":0.624},{"s":"Sim. mean + std","h":21.3,"v":0.63},{"s":"Sim. mean + std","h":21.67,"v":0.635},{"s":"Sim. mean + std","h":21.95,"v":0.624},{"s":"Sim. mean + std","h":22.23,"v":0.609},{"s":"Sim. mean + std","h":22.51,"v":0.599},{"s":"Sim. mean + std","h":22.79,"v":0.589},{"s":"Sim. mean + std","h":23.07,"v":0.568},{"s":"Sim. mean + std","h":23.26,"v":0.538},{"s":"Sim. mean + std","h":23.38,"v":0.487},{"s":"Sim. mean + std","h":23.5,"v":0.425},{"s":"Sim. mean + std","h":23.63,"v":0.385},{"s":"Sim. mean + std","h":23.7,"v":0.37},
{"s":"Mea. mean + std","h":0.065,"v":0.385},{"s":"Mea. mean + std","h":0.16,"v":0.38},{"s":"Mea. mean + std","h":0.345,"v":0.334},{"s":"Mea. mean + std","h":0.53,"v":0.272},{"s":"Mea. mean + std","h":0.72,"v":0.2},{"s":"Mea. mean + std","h":0.905,"v":0.119},{"s":"Mea. mean + std","h":1.05,"v":0.058},{"s":"Mea. mean + std","h":1.15,"v":0.02},{"s":"Mea. mean + std","h":7.06,"v":0.02},{"s":"Mea. mean + std","h":7.25,"v":0.058},{"s":"Mea. mean + std","h":7.43,"v":0.16},{"s":"Mea. mean + std","h":7.62,"v":0.283},{"s":"Mea. mean + std","h":7.81,"v":0.395},{"s":"Mea. mean + std","h":7.96,"v":0.548},{"s":"Mea. mean + std","h":8.14,"v":0.6},{"s":"Mea. mean + std","h":8.42,"v":0.609},{"s":"Mea. mean + std","h":8.7,"v":0.624},{"s":"Mea. mean + std","h":8.89,"v":0.619},{"s":"Mea. mean + std","h":9.08,"v":0.635},{"s":"Mea. mean + std","h":9.26,"v":0.619},{"s":"Mea. mean + std","h":9.45,"v":0.609},{"s":"Mea. mean + std","h":9.64,"v":0.624},{"s":"Mea. mean + std","h":9.92,"v":0.604},{"s":"Mea. mean + std","h":10.1,"v":0.589},{"s":"Mea. mean + std","h":10.29,"v":0.594},{"s":"Mea. mean + std","h":10.44,"v":0.553},{"s":"Mea. mean + std","h":10.57,"v":0.522},{"s":"Mea. mean + std","h":10.76,"v":0.517},{"s":"Mea. mean + std","h":10.94,"v":0.522},{"s":"Mea. mean + std","h":11.13,"v":0.528},{"s":"Mea. mean + std","h":11.31,"v":0.568},{"s":"Mea. mean + std","h":11.5,"v":0.548},{"s":"Mea. mean + std","h":11.69,"v":0.522},{"s":"Mea. mean + std","h":11.87,"v":0.553},{"s":"Mea. mean + std","h":12.06,"v":0.512},{"s":"Mea. mean + std","h":12.34,"v":0.538},{"s":"Mea. mean + std","h":12.62,"v":0.548},{"s":"Mea. mean + std","h":12.9,"v":0.538},{"s":"Mea. mean + std","h":13.18,"v":0.528},{"s":"Mea. mean + std","h":13.46,"v":0.533},{"s":"Mea. mean + std","h":13.84,"v":0.533},{"s":"Mea. mean + std","h":14.21,"v":0.528},{"s":"Mea. mean + std","h":14.49,"v":0.533},{"s":"Mea. mean + std","h":14.67,"v":0.548},{"s":"Mea. mean + std","h":14.86,"v":0.558},{"s":"Mea. mean + std","h":15.05,"v":0.579},{"s":"Mea. mean + std","h":15.33,"v":0.579},{"s":"Mea. mean + std","h":15.51,"v":0.604},{"s":"Mea. mean + std","h":15.7,"v":0.599},{"s":"Mea. mean + std","h":15.89,"v":0.568},{"s":"Mea. mean + std","h":16.0,"v":0.6},{"s":"Mea. mean + std","h":16.07,"v":0.573},{"s":"Mea. mean + std","h":16.26,"v":0.594},{"s":"Mea. mean + std","h":16.45,"v":0.614},{"s":"Mea. mean + std","h":16.63,"v":0.635},{"s":"Mea. mean + std","h":16.82,"v":0.63},{"s":"Mea. mean + std","h":16.91,"v":0.619},{"s":"Mea. mean + std","h":17.1,"v":0.609},{"s":"Mea. mean + std","h":17.29,"v":0.65},{"s":"Mea. mean + std","h":17.57,"v":0.655},{"s":"Mea. mean + std","h":17.85,"v":0.658},{"s":"Mea. mean + std","h":18.12,"v":0.66},{"s":"Mea. mean + std","h":18.4,"v":0.652},{"s":"Mea. mean + std","h":18.68,"v":0.65},{"s":"Mea. mean + std","h":18.96,"v":0.65},{"s":"Mea. mean + std","h":19.24,"v":0.645},{"s":"Mea. mean + std","h":19.52,"v":0.65},{"s":"Mea. mean + std","h":19.8,"v":0.645},{"s":"Mea. mean + std","h":20.09,"v":0.635},{"s":"Mea. mean + std","h":20.36,"v":0.645},{"s":"Mea. mean + std","h":20.64,"v":0.65},{"s":"Mea. mean + std","h":20.92,"v":0.645},{"s":"Mea. mean + std","h":21.2,"v":0.652},{"s":"Mea. mean + std","h":21.48,"v":0.65},{"s":"Mea. mean + std","h":21.76,"v":0.655},{"s":"Mea. mean + std","h":22.04,"v":0.647},{"s":"Mea. mean + std","h":22.33,"v":0.64},{"s":"Mea. mean + std","h":22.61,"v":0.63},{"s":"Mea. mean + std","h":22.88,"v":0.624},{"s":"Mea. mean + std","h":23.16,"v":0.604},{"s":"Mea. mean + std","h":23.35,"v":0.604},{"s":"Mea. mean + std","h":23.54,"v":0.599},{"s":"Mea. mean + std","h":23.7,"v":0.579}
]
}
}
